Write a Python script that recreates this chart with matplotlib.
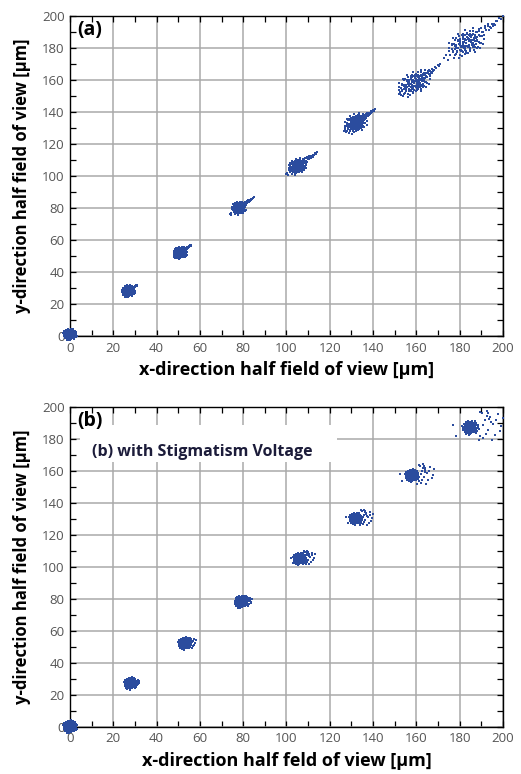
import matplotlib.pyplot as plt
from matplotlib.patches import Rectangle
from matplotlib.ticker import MultipleLocator
import numpy as np

plt.rcParams['font.family'] = ['Open Sans', 'DejaVu Sans']

# spot centres [um]
a_cx = [0, 27, 51, 78, 105, 132, 159, 183]
a_cy = [1, 28, 52, 80, 106, 133, 158, 183]
a_rx = [3.5, 3.3, 3.5, 3.5, 4.2, 5.0, 6.3, 7.5]
a_ry = [4.0, 4.2, 4.3, 4.5, 5.0, 6.0, 6.8, 8.0]
a_stretch = [0, 0, 0, 0, 0.2, 0.3, 0.6, 0.5]
a_tail = [2, 4, 5, 7, 9, 9, 12, 17]

b_cx = [0, 28, 53, 79, 106, 132, 158, 185]
b_cy = [0, 27, 52, 78, 105, 130, 157, 187]
b_rx = [3.5, 3.3, 3.3, 3.3, 3.2, 3.3, 3.5, 4.2]
b_ry = [4.5, 4.3, 4.3, 4.3, 4.3, 4.3, 4.3, 4.8]
b_halo = [3, 4, 5, 5, 7, 8, 10, 15]

# hand-placed unit offsets of the spot core
core_dx = [0.00, 0.25, -0.25, 0.10, -0.10, 0.45, -0.45, 0.30, -0.30, 0.60,
           -0.60, 0.05, -0.05, 0.40, -0.40, 0.70, -0.70, 0.20, -0.20, 0.55,
           -0.55, 0.80, -0.80, 0.15, -0.15, 0.35, -0.35, 0.65, -0.65, 0.00,
           0.90, -0.90, 0.50, -0.50, 0.25, -0.25, 0.75, -0.75, 0.10, -0.10,
           0.45, -0.45, 0.30, -0.30, 0.60, -0.60, 0.85, -0.85, 0.15, -0.15]
core_dy = [0.00, 0.15, -0.10, 0.40, -0.45, -0.20, 0.25, -0.55, 0.55, 0.30,
           -0.35, 0.75, -0.80, 0.60, -0.65, -0.10, 0.05, -0.25, 0.30, -0.65,
           0.70, 0.35, -0.30, 0.90, -0.92, 0.20, -0.20, 0.60, -0.62, -0.30,
           -0.25, 0.20, 0.05, -0.05, 0.50, 0.85, -0.45, 0.50, -0.65, 0.60,
           0.80, -0.82, -0.05, 0.05, -0.40, 0.45, 0.10, -0.10, 0.20, -0.20]

# tail along the diagonal (panel a)
tail_dx = [0.45, 0.50, 0.55, 0.60, 0.65, 0.70, 0.75, 0.80, 0.85, 0.90, 1.00,
           0.62, 0.72, 0.52, 0.58, 0.68, -0.55, -0.60, -0.50, 0.40, 0.48,
           0.35, 0.42, 0.78, 0.95]
tail_dy = [0.40, 0.55, 0.48, 0.62, 0.58, 0.72, 0.70, 0.82, 0.80, 0.93, 1.00,
           0.50, 0.64, 0.62, 0.70, 0.55, -0.45, -0.55, -0.60, 0.55, 0.30,
           0.45, 0.25, 0.68, 0.88]

# scattered halo (panel b)
halo_dx = [0.45, 0.55, 0.60, 0.70, 0.75, 0.85, 0.95, 0.50, 0.35, 0.40,
           0.65, 0.80, 1.00, 0.30, 0.55, -0.55, -0.45, 0.25, 0.90, 0.62,
           0.40, 0.48, 0.58, 0.30, 0.52]
halo_dy = [0.30, -0.10, 0.45, 0.15, -0.30, 0.55, 0.05, 0.70, 0.60, -0.45,
           -0.50, 0.30, 0.40, 0.65, 0.60, 0.10, -0.35, -0.50, -0.15, 0.22,
           0.10, -0.25, 0.35, -0.35, 0.50]

x_labels = ['x-direction half field of view [\u03bcm]',
            'x-direction half feld of view [\u03bcm]']
y_label = 'y-direction half field of view [\u03bcm]'
dot_color = '#2b4c9e'


def spots(cx, cy, rx, ry, stretch, extra, ex_dx, ex_dy):
    xs, ys = [], []
    dx = np.array(core_dx)
    dy = np.array(core_dy)
    for i in range(len(cx)):
        # outer ring of the core plus denser inner layers
        for ux, uy, k in [(dx, dy, 1.0), (dy, dx, 0.6), (-dy, dx, 0.8)]:
            d = (ux + uy) / 2 * stretch[i]
            xs.append(cx[i] + k * rx[i] * (ux + d))
            ys.append(cy[i] + k * ry[i] * (uy + d))
        xs.append(cx[i] + extra[i] * np.array(ex_dx))
        ys.append(cy[i] + extra[i] * np.array(ex_dy))
    return np.concatenate(xs), np.concatenate(ys)


def style(ax, xlabel):
    ax.set_xlim(0, 200)
    ax.set_ylim(0, 200)
    ax.xaxis.set_major_locator(MultipleLocator(20))
    ax.yaxis.set_major_locator(MultipleLocator(20))
    ax.xaxis.set_minor_locator(MultipleLocator(10))
    ax.yaxis.set_minor_locator(MultipleLocator(10))
    ax.grid(True, which='major', color='#a9a9a9', linewidth=1.1, zorder=0)
    ax.set_axisbelow(True)
    ax.tick_params(which='both', direction='in', top=True, right=True,
                   length=4, width=0.9, labelsize=9.5, labelcolor='#555555', pad=4)
    for s in ax.spines.values():
        s.set_linewidth(1.0)
    ax.set_xlabel(xlabel, fontsize=13, fontweight='bold', labelpad=5)
    ax.set_ylabel(y_label, fontsize=12, fontweight='bold', labelpad=8)


fig = plt.figure(figsize=(5.21, 7.74), dpi=100)
ax1 = fig.add_axes([0.1344, 0.5659, 0.831, 0.4134])
ax2 = fig.add_axes([0.1344, 0.0611, 0.831, 0.4134])

xa, ya = spots(a_cx, a_cy, a_rx, a_ry, a_stretch, a_tail, tail_dx, tail_dy)
xb, yb = spots(b_cx, b_cy, b_rx, b_ry, [0] * len(b_cx), b_halo, halo_dx, halo_dy)

style(ax1, x_labels[0])
style(ax2, x_labels[1])

ax1.scatter(xa, ya, s=4.5, marker='s', color=dot_color, linewidths=0,
            clip_on=False, zorder=3)
ax2.scatter(xb, yb, s=4.5, marker='s', color=dot_color, linewidths=0,
            clip_on=False, zorder=3)

ax1.text(0.016, 0.955, '(a)', transform=ax1.transAxes, fontsize=14,
         fontweight='bold', va='center', ha='left')
ax2.text(0.016, 0.955, '(b)', transform=ax2.transAxes, fontsize=14,
         fontweight='bold', va='center', ha='left')
ax2.add_patch(Rectangle((0.023, 0.827), 0.594, 0.116, transform=ax2.transAxes,
                        facecolor='white', edgecolor='none', zorder=2))
ax2.text(0.05, 0.86, '(b) with Stigmatism Voltage', transform=ax2.transAxes,
         fontsize=11.5, fontweight='bold', color='#1c1c3a', va='center',
         ha='left', zorder=4)

fig.savefig('out.png', dpi=100)
